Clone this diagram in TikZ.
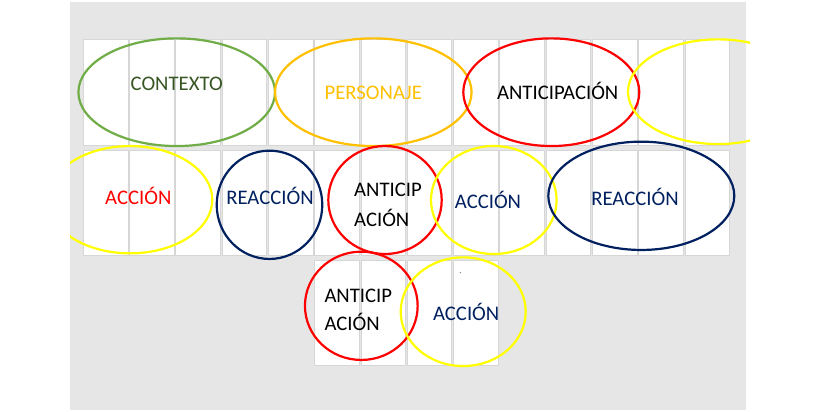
\documentclass[tikz,border=0pt]{standalone}
\usepackage{fontspec}
\setmainfont{Carlito}
\usetikzlibrary{shapes.geometric}
\definecolor{bggray}{HTML}{E6E6E6}
\definecolor{cardline}{HTML}{D6D6D6}
\definecolor{cgreen}{HTML}{70AD47}
\definecolor{tgreen}{HTML}{375623}
\definecolor{corange}{HTML}{FFC000}
\definecolor{cred}{HTML}{FF0000}
\definecolor{cyellow}{HTML}{FFFF00}
\definecolor{cnavy}{HTML}{002060}
\begin{document}
\begin{tikzpicture}[x=1bp,y=-1bp,
  card/.style={draw=cardline, fill=white, line width=0.8bp},
  ring/.style={ellipse, draw, line width=2.2bp, inner sep=0pt, outer sep=0pt},
  lbl/.style={inner sep=0pt, font=\fontsize{20.7bp}{24bp}\selectfont}]
\useasboundingbox (0,0) rectangle (820,411);
\fill[bggray] (70,2) rectangle (746,410);
% cards
\foreach \k in {0,...,13} {
  \draw[card] ({83.3+46.28*\k},39.5) rectangle ++(44.6,105.5);
  \draw[card] ({83.3+46.28*\k},150) rectangle ++(44.6,105);
}
\foreach \k in {5,...,8} {
  \draw[card] ({83.3+46.28*\k},260) rectangle ++(44.6,105);
}
\fill[gray] (460.3,272.7) circle (0.7bp);
% ellipses
\begin{scope}
\clip (70,0) rectangle (750,411);
\node[ring, draw=cgreen, minimum width=196.6bp, minimum height=107.7bp] (e1) at (176.7,92.2) {};
\node[ring, draw=corange, minimum width=196.6bp, minimum height=107.7bp] (e2) at (373.3,92.2) {};
\node[ring, draw=cred, minimum width=176bp, minimum height=107.7bp] (e3) at (551.3,92.2) {};
\node[ring, draw=cyellow, minimum width=180bp, minimum height=104.7bp] (e4) at (718,91.7) {};
\node[ring, draw=cyellow, minimum width=164.6bp, minimum height=107.3bp] (e5) at (130,199.7) {};
\node[ring, draw=cnavy, minimum width=105.6bp, minimum height=108.3bp] (e6) at (269.5,204.8) {};
\node[ring, draw=cred, minimum width=113.4bp, minimum height=108bp] (e7) at (385,200) {};
\node[ring, draw=cyellow, minimum width=125.6bp, minimum height=108bp] (e8) at (493.8,200) {};
\node[ring, draw=cnavy, minimum width=186bp, minimum height=108.3bp] (e9) at (641.3,195.8) {};
\node[ring, draw=cred, minimum width=112.7bp, minimum height=108.3bp] (e10) at (361.3,305.8) {};
\node[ring, draw=cyellow, minimum width=125bp, minimum height=108.7bp] (e11) at (463.2,311.7) {};
\end{scope}
% labels
\node[lbl, anchor=base, text=tgreen] (t1) at (176.7,90.7) {CONTEXTO};
\node[lbl, anchor=base, text=corange] (t2) at (373.3,99.3) {PERSONAJE};
\node[lbl, anchor=base, text=black] (t3) at (557.7,99.3) {ANTICIPACIÓN};
\node[lbl, anchor=base, text=cred] (t5) at (138.3,204) {ACCIÓN};
\node[lbl, anchor=base, text=cnavy] (t6) at (270,204) {REACCIÓN};
\node[lbl, anchor=base west, text=black] (t7a) at (354,196.7) {ANTICIP};
\node[lbl, anchor=base west, text=black] (t7b) at (354,226) {ACIÓN};
\node[lbl, anchor=base, text=cnavy] (t8) at (488,208.3) {ACCIÓN};
\node[lbl, anchor=base, text=cnavy] (t9) at (635,205.5) {REACCIÓN};
\node[lbl, anchor=base west, text=black] (t10a) at (324.3,302) {ANTICIP};
\node[lbl, anchor=base west, text=black] (t10b) at (324.3,330.5) {ACIÓN};
\node[lbl, anchor=base, text=cnavy] (t11) at (466.2,320.5) {ACCIÓN};
\end{tikzpicture}
\end{document}
